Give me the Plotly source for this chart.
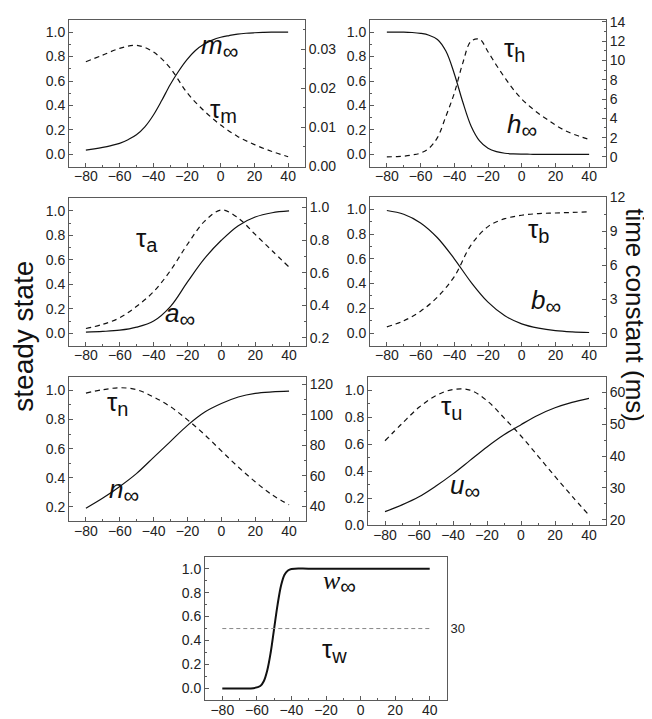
import plotly.graph_objects as go

W, H = 652, 719

# ---------------- data ----------------
V10 = [-80, -70, -60, -50, -40, -30, -20, -10, 0, 10, 20, 30, 40]
V5 = [-80, -75, -70, -65, -60, -55, -50, -45, -40, -35, -30, -25, -20,
      -15, -10, -5, 0, 5, 10, 15, 20, 25, 30, 35, 40]

m_inf = [0.035, 0.045, 0.057, 0.072, 0.09, 0.12, 0.16, 0.225, 0.32, 0.44, 0.57, 0.68,
         0.775, 0.85, 0.9, 0.935, 0.958, 0.972, 0.984, 0.991, 0.995, 0.998, 1.0, 1.0, 1.0]
tau_m = [0.0268, 0.0285, 0.0302, 0.0310, 0.0293, 0.0252, 0.0189, 0.0143, 0.0106,
         0.0077, 0.0056, 0.0039, 0.0025]

h_inf = [1.0, 1.0, 1.0, 0.997, 0.99, 0.975, 0.94, 0.845, 0.66, 0.43, 0.23, 0.11,
         0.05, 0.022, 0.009, 0.004, 0.002, 0.001, 0.0, 0.0, 0.0, 0.0, 0.0, 0.0, 0.0]
tau_h = [0.0, 0.03, 0.08, 0.2, 0.4, 0.9, 2.0, 4.2, 6.6, 9.7, 12.0, 12.2, 10.9,
         9.5, 8.2, 7.0, 6.0, 5.2, 4.5, 3.9, 3.3, 2.8, 2.4, 2.1, 1.8]

a_inf = [0.01, 0.015, 0.025, 0.05, 0.1, 0.22, 0.42, 0.61, 0.76, 0.88, 0.95, 0.985, 1.0]
tau_a = [0.258, 0.284, 0.324, 0.394, 0.484, 0.614, 0.774, 0.914, 0.984, 0.934,
         0.834, 0.734, 0.634]

b_inf = [0.99, 0.96, 0.89, 0.77, 0.6, 0.41, 0.25, 0.14, 0.075, 0.04, 0.02, 0.01, 0.005]
tau_b = [0.57, 1.1, 1.95, 3.2, 5.0, 7.8, 9.4, 10.1, 10.4, 10.55, 10.6, 10.65, 10.7]

n_inf = [0.19, 0.26, 0.34, 0.43, 0.54, 0.65, 0.76, 0.85, 0.91, 0.955, 0.98, 0.99, 0.995]
tau_n = [114.4, 116.6, 117.9, 116.6, 111.8, 105.4, 96.8, 87.2, 76.4, 65.8, 56.1, 47.5, 41.0]

u_inf = [0.10, 0.15, 0.21, 0.29, 0.38, 0.48, 0.58, 0.67, 0.745, 0.815, 0.87, 0.91, 0.94]
tau_u = [44.8, 50.2, 55.3, 59.0, 60.9, 60.7, 57.4, 52.0, 46.3, 40.0, 33.6, 27.4, 21.4]

Vw = [-80, -70, -62, -58, -56, -54, -52, -50, -48, -46, -44, -42, -40, -30, -20, 0, 20, 40]
w_inf = [0.0, 0.0, 0.002, 0.02, 0.06, 0.15, 0.3, 0.5, 0.7, 0.86, 0.95, 0.985, 0.998,
         1.0, 1.0, 1.0, 1.0, 1.0]
Vtw = [-80, 40]
tau_w = [30, 30]

X_TICKS = [-80, -60, -40, -20, 0, 20, 40]

# ---------------- layout helpers ----------------
AX_COL = "#5a5a5a"
TXT_COL = "#222222"
TICK_FONT = dict(family="Liberation Sans, Arial, sans-serif", size=14, color=TXT_COL)

fig = go.Figure()
layout = dict(width=W, height=H, margin=dict(l=0, r=0, t=0, b=0),
              paper_bgcolor="white", plot_bgcolor="white", showlegend=False)
annotations = []


def px_x(p):
    return p / W


def px_y(p):
    return 1 - p / H


panels = [
    dict(box=(61, 297, 4, 154), lr=[-0.1, 1.1], lt=[0, 0.2, 0.4, 0.6, 0.8, 1.0], lminor=0.1,
         rr=[-0.00002, 0.0375], rt=[0, 0.01, 0.02, 0.03], rminor=0.005, rfmt=".2f",
         solid=(V5, m_inf), dash=(V10, tau_m)),
    dict(box=(362, 598, 4, 154), lr=[-0.1, 1.1], lt=[0, 0.2, 0.4, 0.6, 0.8, 1.0], lminor=0.1,
         rr=[-1.0, 14.2], rt=[0, 2, 4, 6, 8, 10, 12, 14], rminor=1, rfmt="d",
         solid=(V5, h_inf), dash=(V5, tau_h)),
    dict(box=(61, 298, 186, 337), lr=[-0.1, 1.107], lt=[0, 0.2, 0.4, 0.6, 0.8, 1.0], lminor=0.1,
         rr=[0.154, 1.058], rt=[0.2, 0.4, 0.6, 0.8, 1.0], rminor=0.1, rfmt=".1f",
         solid=(V10, a_inf), dash=(V10, tau_a)),
    dict(box=(362, 598, 185, 337), lr=[-0.1, 1.1], lt=[0, 0.2, 0.4, 0.6, 0.8, 1.0], lminor=0.1,
         rr=[-1.07, 12.02], rt=[0, 3, 6, 9, 12], rminor=1.5, rfmt="d",
         solid=(V10, b_inf), dash=(V10, tau_b)),
    dict(box=(61, 298, 369, 517), lr=[0.099, 1.094], lt=[0.2, 0.4, 0.6, 0.8, 1.0], lminor=0.1,
         rr=[30, 125.1], rt=[40, 60, 80, 100, 120], rminor=10, rfmt="d",
         solid=(V10, n_inf), dash=(V10, tau_n)),
    dict(box=(360, 598, 369, 521), lr=[-0.002, 1.1], lt=[0, 0.2, 0.4, 0.6, 0.8, 1.0], lminor=0.1,
         rr=[18.2, 64.9], rt=[20, 30, 40, 50, 60], rminor=5, rfmt="d",
         solid=(V10, u_inf), dash=(V10, tau_u)),
    dict(box=(197, 439, 553, 700), lr=[-0.1, 1.1], lt=[0, 0.2, 0.4, 0.6, 0.8, 1.0], lminor=0.1,
         rr=[25, 35], rt=[30], rminor=None, rfmt="d",
         solid=(Vw, w_inf), dash=(Vtw, tau_w)),
]

for i, p in enumerate(panels):
    k = i + 1
    xa = "x" if k == 1 else f"x{k}"
    yl_n = 2 * k - 1
    yr_n = 2 * k
    yl = "y" if yl_n == 1 else f"y{yl_n}"
    yr = f"y{yr_n}"
    x0, x1, y0, y1 = p["box"]
    xdom = [px_x(x0), px_x(x1)]
    ydom = [px_y(y1), px_y(y0)]

    layout["xaxis" if k == 1 else f"xaxis{k}"] = dict(
        domain=xdom, anchor=yl, range=[-90, 50], tickvals=X_TICKS,
        showline=True, linecolor=AX_COL, linewidth=1, mirror=True,
        ticks="inside", ticklen=4, tickcolor=AX_COL, tickfont=TICK_FONT,
        ticklabelstandoff=-3,
        minor=dict(ticks="inside", ticklen=2, dtick=10, tickcolor=AX_COL),
        showgrid=False, zeroline=False, fixedrange=True)
    layout["yaxis" if yl_n == 1 else f"yaxis{yl_n}"] = dict(
        domain=ydom, anchor=xa, range=p["lr"], tickvals=p["lt"], tickformat=".1f",
        showline=True, linecolor=AX_COL, linewidth=1, mirror=True,
        ticks="inside", ticklen=4, tickcolor=AX_COL, tickfont=TICK_FONT,
        minor=dict(ticks="inside", ticklen=2, dtick=p["lminor"], tick0=0, tickcolor=AX_COL),
        showgrid=False, zeroline=False, fixedrange=True)
    ryax = dict(
        domain=ydom, anchor=xa, overlaying=yl, side="right", range=p["rr"],
        tickvals=p["rt"], tickformat=p["rfmt"],
        showline=True, linecolor=AX_COL, linewidth=1,
        ticks="inside" if p["rminor"] else "", ticklen=4, tickcolor=AX_COL,
        tickfont=dict(TICK_FONT, size=13 if k == 7 else 14),
        showgrid=False, zeroline=False, fixedrange=True)
    if p["rminor"]:
        ryax["minor"] = dict(ticks="inside", ticklen=2, dtick=p["rminor"],
                             tick0=p["rt"][0], tickcolor=AX_COL)
    layout[f"yaxis{yr_n}"] = ryax

    sx, sy = p["solid"]
    dx, dy = p["dash"]
    fig.add_trace(go.Scatter(
        x=sx, y=sy, xaxis=xa, yaxis=yl, mode="lines",
        line=dict(color="#111111", width=2.0 if k == 7 else 1.2, shape="spline", smoothing=1.0),
        hoverinfo="skip"))
    fig.add_trace(go.Scatter(
        x=dx, y=dy, xaxis=xa, yaxis=yr, mode="lines",
        line=dict(color="#888888" if k == 7 else "#111111", width=1.0 if k == 7 else 1.2,
                  dash="5px,4px" if k != 7 else "4px,3px", shape="spline", smoothing=1.0),
        hoverinfo="skip"))

LBL = dict(family="Liberation Sans, Arial, sans-serif", size=26, color="#111111")


def inf_label(letter, cx, cy, serif=False):
    fam = "Liberation Serif, Times New Roman, serif" if serif else LBL["family"]
    txt = (f"<i><span style='font-family:{fam}'>{letter}</span></i>"
           f"<sub><span style='font-size:22px'>∞</span></sub>")
    annotations.append(dict(x=px_x(cx - 5), y=px_y(cy - 9), xref="paper", yref="paper",
                            text=txt, showarrow=False, xanchor="center", yanchor="middle",
                            font=LBL))


def tau_label(sub, cx, cy):
    txt = f"τ<sub><span style='font-size:20px'>{sub}</span></sub>"
    annotations.append(dict(x=px_x(cx - 4), y=px_y(cy - 9), xref="paper", yref="paper",
                            text=txt, showarrow=False, xanchor="center", yanchor="middle",
                            font=LBL))


inf_label("m", 216, 41)
tau_label("m", 219, 106)
tau_label("h", 510, 43)
inf_label("h", 519, 121)
tau_label("a", 143, 238)
inf_label("a", 177, 315)
tau_label("b", 534, 228)
inf_label("b", 543, 301)
tau_label("n", 113, 405)
inf_label("n", 121, 495)
tau_label("u", 448, 409)
inf_label("u", 462, 491)
inf_label("w", 337, 588, serif=True)
tau_label("w", 330, 658)

TITLE = dict(family="Liberation Sans, Arial, sans-serif", size=28, color="#111111")
annotations.append(dict(x=px_x(16), y=px_y(328), xref="paper", yref="paper",
                        text="steady state", textangle=-90, showarrow=False,
                        xanchor="center", yanchor="middle", font=TITLE))
annotations.append(dict(x=px_x(627), y=px_y(306), xref="paper", yref="paper",
                        text="time constant (ms)", textangle=90, showarrow=False,
                        xanchor="center", yanchor="middle",
                        font=dict(TITLE, size=26)))

layout["annotations"] = annotations
fig.update_layout(**layout)
fig.write_html("out.html")
